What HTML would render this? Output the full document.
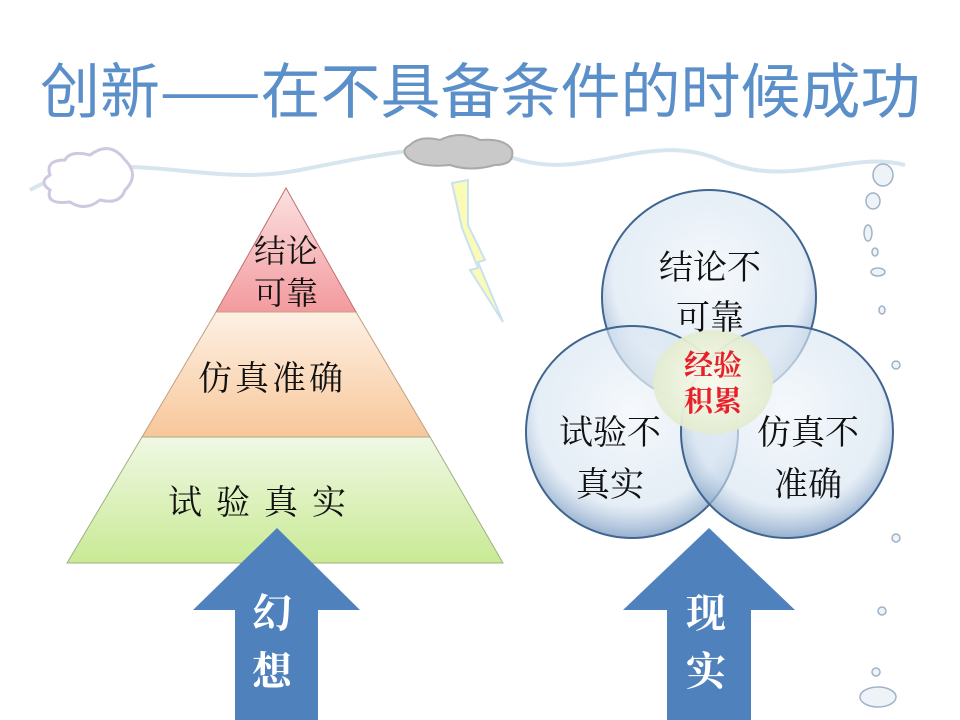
<!DOCTYPE html>
<html><head><meta charset="utf-8"><style>
body{margin:0;width:960px;height:720px;background:#fff;overflow:hidden;position:relative;font-family:"Liberation Serif","Noto Serif CJK SC",serif}
.t{position:absolute;font-family:"Noto Serif CJK SC",serif;color:#111;white-space:nowrap}
</style></head><body>
<div class="t" style="left:40px;top:50px;font-size:60px;color:#5b8fc9;line-height:76px;font-family:'Noto Sans CJK SC',sans-serif">创新——在不具备条件的时候成功</div>
<svg width="960" height="720" style="position:absolute;left:0;top:0">
<defs>
<linearGradient id="g1" x1="0" y1="0" x2="0" y2="1"><stop offset="0" stop-color="#fbe1e1"/><stop offset="1" stop-color="#f39a9e"/></linearGradient>
<linearGradient id="g2" x1="0" y1="0" x2="0" y2="1"><stop offset="0" stop-color="#fdf1e4"/><stop offset="1" stop-color="#f8c79a"/></linearGradient>
<linearGradient id="g3" x1="0" y1="0" x2="0" y2="1"><stop offset="0" stop-color="#f0f8e4"/><stop offset="1" stop-color="#c9ea95"/></linearGradient>
<radialGradient id="b" cx="0.5" cy="0.4" r="0.6"><stop offset="0" stop-color="#f4f8fc" stop-opacity="0.8"/><stop offset="0.75" stop-color="#d4e2f0" stop-opacity="0.6"/><stop offset="1" stop-color="#7d9dc3" stop-opacity="0.8"/></radialGradient>
<radialGradient id="c" cx="0.5" cy="0.5" r="0.5"><stop offset="0" stop-color="#fafcee"/><stop offset="1" stop-color="#e3ecd0"/></radialGradient>
</defs>
<path d="M30 190 C120 140 200 190 300 170 S450 140 520 160 S650 130 720 160 S850 150 905 165" fill="none" stroke="#d7e6ee" stroke-width="4"/>
<path d="M50 175 Q45 160 65 160 Q70 150 90 155 Q110 140 125 160 Q140 175 125 190 Q120 205 100 200 Q85 212 70 202 Q45 205 50 190 Q38 182 50 175 Z" fill="#fff" stroke="#d0c8e0" stroke-width="3"/>
<path d="M410 145 Q420 135 440 140 Q460 130 480 140 Q505 138 512 150 Q515 165 495 165 Q470 172 450 165 Q420 168 408 158 Q400 150 410 145 Z" fill="#c9c9c9" stroke="#a9a9a9" stroke-width="2"/>
<polygon points="452,183 468,180 468,225 485,260 478,262 503,322 470,270 478,268 462,228" fill="#fbfbb8" stroke="#c9e1f0" stroke-width="2"/>
<g fill="#eef3f8" stroke="#9fb3c8" stroke-width="1.5">
<ellipse cx="883" cy="175" rx="10" ry="11"/><ellipse cx="873" cy="201" rx="7" ry="8"/><ellipse cx="868" cy="233" rx="4" ry="8"/><ellipse cx="875" cy="252" rx="3" ry="4"/><ellipse cx="878" cy="272" rx="7" ry="4"/><ellipse cx="882" cy="310" rx="3" ry="4"/><ellipse cx="896" cy="365" rx="4" ry="4"/><ellipse cx="896" cy="538" rx="4" ry="4"/><ellipse cx="882" cy="611" rx="4" ry="4"/><ellipse cx="876" cy="672" rx="4" ry="4"/><ellipse cx="878" cy="697" rx="18" ry="10"/>
</g>
<polygon points="286,188 356,312 216,312" fill="url(#g1)" stroke="#c07070" stroke-width="1"/>
<polygon points="216,312 356,312 430,437 142,437" fill="url(#g2)" stroke="#c0a080" stroke-width="1"/>
<polygon points="142,437 430,437 503,563 67,563" fill="url(#g3)" stroke="#a0b080" stroke-width="1"/>
<polygon points="277,528 360,610 318,610 318,720 235,720 235,610 193,610" fill="#4f81bd"/>
<polygon points="709,528 795,610 751,610 751,720 667,720 667,610 623,610" fill="#4f81bd"/>
<g stroke="#3f6590" stroke-width="2" fill="url(#b)">
<circle cx="709" cy="297" r="107"/><circle cx="632" cy="432" r="106"/><circle cx="787" cy="432" r="106"/>
</g>
<ellipse cx="713" cy="382" rx="60" ry="52" fill="url(#c)" opacity="0.95"/>
</svg>
<div class="t" style="left:248px;top:228px;font-size:32px;line-height:42px;text-align:center;width:76px">结论<br>可靠</div>
<div class="t" style="left:198px;top:354px;font-size:34px;line-height:44px;letter-spacing:3px">仿真准确</div>
<div class="t" style="left:168px;top:478px;font-size:34px;line-height:44px;letter-spacing:14px">试验真实</div>
<div class="t" style="left:252px;top:582px;font-size:40px;line-height:58px;color:#fff;font-weight:bold">幻<br>想</div>
<div class="t" style="left:686px;top:582px;font-size:40px;line-height:58px;color:#fff;font-weight:bold">现<br>实</div>
<div class="t" style="left:650px;top:240px;font-size:34px;line-height:50px;text-align:center;width:120px">结论不<br>可靠</div>
<div class="t" style="left:550px;top:404px;font-size:34px;line-height:52px;text-align:center;width:120px">试验不<br>真实</div>
<div class="t" style="left:748px;top:404px;font-size:34px;line-height:52px;text-align:center;width:120px">仿真不<br>准确</div>
<div class="t" style="left:668px;top:346px;font-size:29px;line-height:36px;color:#e8202a;font-weight:bold;width:90px;text-align:center">经验<br>积累</div>
</body></html>
